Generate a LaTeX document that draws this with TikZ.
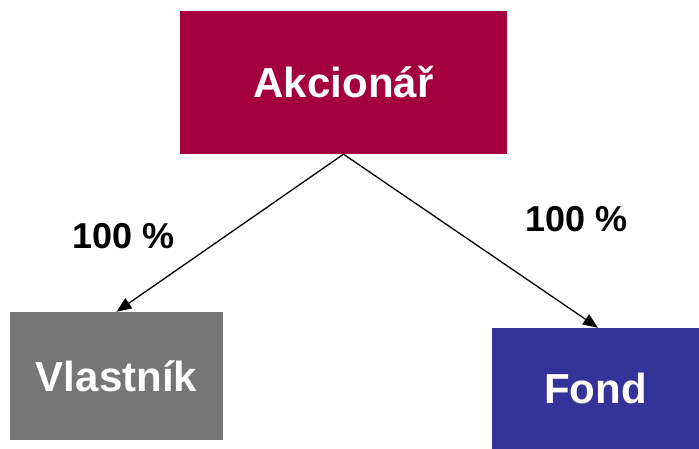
\documentclass[tikz,border=0pt]{standalone}
\usepackage{fontspec}
\setmainfont{Liberation Sans}
\usetikzlibrary{arrows.meta,calc}
\definecolor{akred}{HTML}{A5003E}
\definecolor{vgray}{HTML}{767677}
\definecolor{fblue}{HTML}{343399}
\begin{document}
\begin{tikzpicture}[x=1pt,y=1pt,
  box/.style={draw=none,minimum width=#1,inner sep=0pt,text=white,font=\fontsize{42}{46}\selectfont\bfseries},
  pct/.style={font=\fontsize{36}{40}\selectfont\bfseries,inner sep=0pt},
  conn/.style={line width=1.3pt,-{Triangle[length=15pt,width=12pt]}}]
\useasboundingbox (0,0) rectangle (699,449);
\node[box=327pt,fill=akred,minimum height=143pt] (a) at (343.5,366.5) {Akcionář};
\node[box=213pt,fill=vgray,minimum height=128pt] (v) at (116.5,73) {Vlastník};
\node[box=207pt,fill=fblue,minimum height=121pt] (f) at (595.5,60.5) {Fond};
\draw[conn] (a.south) -- (v.north);
\draw[conn] (a.south) -- ($(f.north)+(2.5,0)$);
\node[pct] (p1) at (124,213) {100 \%};
\node[pct] (p2) at (577,230) {100 \%};
\end{tikzpicture}
\end{document}
